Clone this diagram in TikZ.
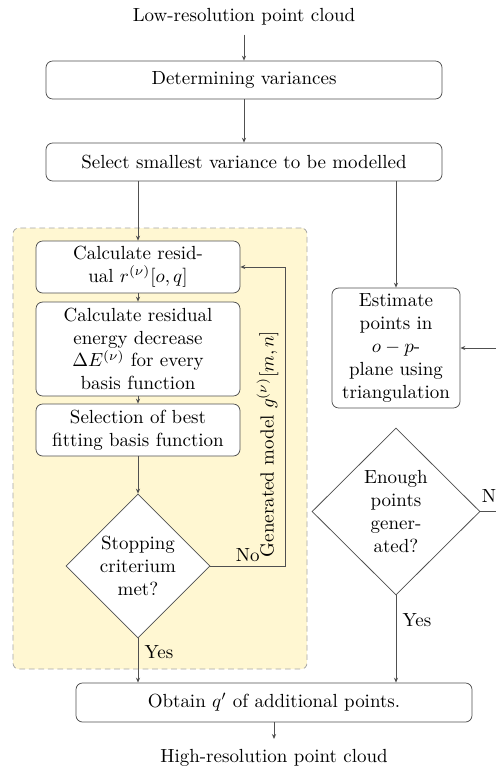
\documentclass[tikz,border=0pt]{standalone}
\usetikzlibrary{shapes.geometric,arrows.meta,calc}
\definecolor{regionfill}{RGB}{255,247,210}
\definecolor{regionline}{RGB}{165,165,165}
\definecolor{inkline}{RGB}{80,80,80}
\begin{document}
\begin{tikzpicture}[x=0.527pt,y=-0.527pt,
  proc/.style={draw=inkline, fill=white, rounded corners=3.5pt, align=center, inner sep=2pt},
  decide/.style={draw=inkline, fill=white, diamond, align=center, inner sep=0pt},
  plain/.style={inner sep=5pt},
  region/.style={draw=regionline, fill=regionfill, dash pattern=on 3pt off 2pt, rounded corners=3pt},
  flow/.style={draw=inkline, -{Stealth[length=2.6pt,width=2.2pt]}},
  lbl/.style={inner sep=2pt}
]
\useasboundingbox (0,0) rectangle (496,766);
\clip (0,0) rectangle (496,766);

% shaded block holding the iterative modelling loop
\node[region, minimum width=154.9pt, minimum height=232.4pt] (loopbox) at (160,448.5) {};

% main flow
\node[plain, anchor=base] (low) at (244,21) {Low-resolution point cloud};
\node[proc, minimum width=208.7pt, minimum height=20pt] (det) at (244,80) {Determining variances};
\node[proc, minimum width=208.7pt, minimum height=20pt] (sel) at (244,162) {Select smallest variance to be modelled};

% left branch: iterative model fitting
\node[proc, minimum width=107.5pt, minimum height=27.4pt] (res) at (138,267) {Calculate resid-\\ual $r^{(\nu)}[o,q]$};
\node[proc, minimum width=107.5pt, minimum height=49.5pt] (energy) at (138,349) {Calculate residual\\energy decrease\\$\Delta E^{(\nu)}$ for every\\basis function};
\node[proc, minimum width=107.5pt, minimum height=27.4pt] (best) at (138,430) {Selection of best\\fitting basis function};
\node[decide, minimum width=75.9pt, minimum height=75.9pt] (stop) at (138,566) {Stopping\\criterium\\met?};

% right branch: triangulation
\node[proc, minimum width=67.5pt, minimum height=63.2pt] (est) at (396,348) {Estimate\\points in\\$o-p$-\\plane using\\triangulation};
\node[decide, minimum width=88.5pt, minimum height=88pt] (enough) at (396,511.5) {Enough\\points\\gener-\\ated?};

% merge and output
\node[proc, minimum width=208.7pt, minimum height=20.6pt] (obtain) at (274,702.5) {Obtain $q'$ of additional points.};
\node[plain, anchor=base] (high) at (274,762) {High-resolution point cloud};

% connectors
\draw[flow] (low) -- (det);
\draw[flow] (det) -- (sel);
\draw[flow] (sel.south -| res.north) -- (res.north);
\draw[flow] (sel.south -| est.north) -- (est.north);
\draw[flow] (res) -- (energy);
\draw[flow] (energy) -- (best);
\draw[flow] (best) -- (stop);

\coordinate (backA) at (285,566);
\coordinate (backB) at (285,267);
\draw[flow] (stop.east) -- node[lbl, above] {No} (backA)
  -- node[pos=0.408, sloped, above, inner sep=3.3pt] {Generated model $g^{(\nu)}[m,n]$} (backB)
  -- (res.east);

\coordinate (fwdA) at (530,511.5);
\coordinate (fwdB) at (530,348);
\draw[flow] (enough.east) -- node[pos=0, anchor=base west, inner sep=0pt, xshift=0.6pt, yshift=4.7pt] {No} (fwdA)
  -- (fwdB) -- (est.east);

\draw[flow] (stop.south) -- node[right, pos=0.3] {Yes} (stop.south |- obtain.north);
\draw[flow] (enough.south) -- node[right, pos=0.28] {Yes} (enough.south |- obtain.north);
\draw[flow] (obtain) -- (high);
\end{tikzpicture}
\end{document}
